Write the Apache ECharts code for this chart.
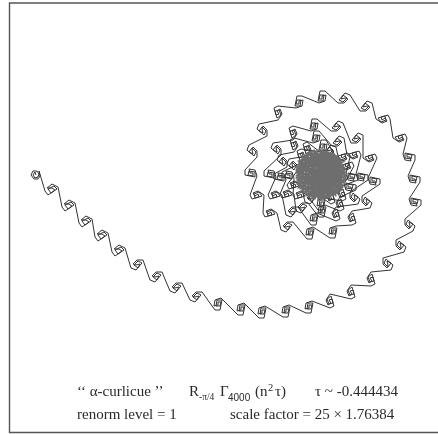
<!DOCTYPE html>
<html><head><meta charset="utf-8">
<style>html,body{margin:0;padding:0;background:#fff}#c{width:438px;height:434px}</style>
<script src="https://cdn.jsdelivr.net/npm/echarts@6/dist/echarts.min.js"></script>
</head><body><div id="c"></div>
<script>
// Curve vertices, as flat x,y lists, in drawing order.
const head = [36,175,37,173,35,172,33,175,35,178,38,177,39,174,37,171,33,171,31,175,34,179,38,179,40,176,39,171];
const tail = [45,191,48,195,57,189,54,186,48,189,51,193,55,190,52,188,50,190,47,188,52,184,58,187,
62,207,65,211,74,205,71,202,65,205,68,209,72,206,69,204,67,206,64,204,69,200,75,203,
79,223,82,227,91,221,88,218,82,221,85,225,89,222,86,220,84,222,81,220,86,216,92,219,
95,237,98,241,107,235,104,232,98,235,101,239,105,236,102,234,100,236,97,234,102,230,108,233,
112,252,115,256,124,250,121,247,115,250,118,254,122,251,119,249,117,251,114,249,119,245,125,248,
131,268,136,270,142,263,138,261,134,265,138,268,140,264,138,263,136,265,133,264,137,260,143,260,
150,280,155,282,161,275,157,273,153,277,157,280,159,276,157,275,155,277,152,276,156,272,162,272,
170,291,175,293,181,286,177,284,173,288,177,291,179,287,177,286,175,288,172,287,176,283,182,283,
190,300,195,302,201,295,197,293,193,297,197,300,199,296,197,295,195,297,192,296,196,292,202,292,
215,310,220,310,222,300,217,300,216,306,220,306,221,302,218,302,218,305,214,306,215,300,221,298,
238,315,243,315,245,305,240,305,239,311,243,311,244,307,241,307,241,310,237,311,238,305,244,303,
259,318,264,318,266,308,261,308,260,314,264,314,265,310,262,310,262,313,258,314,259,308,265,306];
const outerRing = [283,317,288,317,290,307,285,307,284,313,288,313,289,309,286,309,286,312,282,313,283,307,289,305,
306,313,311,313,313,303,308,303,307,309,311,309,312,305,309,305,309,308,305,309,306,303,312,301,
330,308,334,306,331,296,327,299,329,304,333,303,332,299,329,300,331,303,328,305,326,300,330,294,
351,299,355,297,352,287,348,290,350,295,354,294,353,290,350,291,352,294,349,296,347,291,351,285,
371,286,375,284,372,274,368,277,370,282,374,281,373,277,370,278,372,281,369,283,367,278,371,272,
391,270,393,265,386,259,384,263,388,267,391,263,387,261,386,263,388,265,387,268,383,264,383,258,
404,252,406,247,399,241,397,245,401,249,404,245,400,243,399,245,401,247,400,250,396,246,396,240,
413,231,415,226,408,220,406,224,410,228,413,224,409,222,408,224,410,226,409,229,405,225,405,219,
421,205,421,200,411,198,411,203,417,204,418,200,413,199,413,202,416,202,417,206,411,205,409,199,
420,182,420,177,410,175,410,180,416,181,417,177,412,176,412,179,415,179,416,183,410,182,408,176,
415,160,415,155,405,153,405,158,411,159,412,155,407,154,407,157,410,157,411,161,405,160,403,154,
407,138,405,134,395,137,398,141,403,139,402,135,398,136,399,139,402,137,404,140,399,142,393,138,
390,119,388,115,378,118,381,122,386,120,385,116,381,117,382,120,385,118,387,121,382,123,376,119,
372,103,367,101,361,108,365,110,369,106,365,103,363,107,365,108,367,106,370,107,366,111,360,111,
350,95,345,93,339,100,343,102,347,98,343,95,341,99,343,100,345,98,348,99,344,103,338,103,
325,91,320,91,318,101,323,101,324,95,320,95,319,99,322,99,322,96,326,95,325,101,319,103,
302,96,297,96,295,106,300,106,301,100,297,100,296,104,299,104,299,101,303,100,302,106,296,108,
278,106,274,108,277,118,281,115,279,110,275,111,276,115,279,114,277,111,280,109,282,114,278,120,
259,124,257,129,264,135,266,131,262,127,259,131,263,133,264,131,262,129,263,126,267,130,267,136,
249,145,247,150,254,156,256,152,252,148,249,152,253,154,254,152,252,150,253,147,257,151,257,157,
245,170,245,175,255,177,255,172,249,171,248,175,253,176,253,173,250,173,249,169,255,170,257,176,
250,195,252,199,262,196,259,192,254,194,255,198,259,197,258,194,255,196,253,193,258,191,264,195,
263,213,265,217,275,214,272,210,267,212,268,216,272,215,271,212,268,214,266,211,271,209,277,213,
281,230,286,232,292,225,288,223,284,227,288,230,290,226,288,225,286,227,283,226,287,222,293,222,
307,239,312,239,314,229,309,229,308,235,312,235,313,231,310,231,310,234,306,235,307,229,313,227,
330,238,335,238,337,228,332,228,331,234,335,234,336,230,333,230,333,233,329,234,330,228,336,226,
352,225,356,223,353,213,349,216,351,221,355,220,354,216,351,217,353,220,350,222,348,217,352,211];
const secondRing = [370,208,372,203,365,197,363,201,367,205,370,201,366,199,365,201,367,203,366,206,362,202,362,196,
380,184,380,179,370,177,370,182,376,183,377,179,372,178,372,181,375,181,376,185,370,184,368,178,
377,158,375,154,365,157,368,161,373,159,372,155,368,156,369,159,372,157,374,160,369,162,363,158,
363,135,358,133,352,140,356,142,360,138,356,135,354,139,356,140,358,138,361,139,357,143,351,143,
343,123,338,121,332,128,336,130,340,126,336,123,334,127,336,128,338,126,341,127,337,131,331,131,
317,119,312,119,310,129,315,129,316,123,312,123,311,127,314,127,314,124,318,123,317,129,311,131,
293,126,289,128,292,138,296,135,294,130,290,131,291,135,294,134,292,131,295,129,297,134,293,140,
273,143,271,148,278,154,280,150,276,146,273,150,277,152,278,150,276,148,277,145,281,149,281,155,
264,171,264,176,274,178,274,173,268,172,267,176,272,177,272,174,269,174,268,170,274,171,276,177,
268,195,270,199,280,196,277,192,272,194,273,198,277,197,276,194,273,196,271,193,276,191,282,195,
286,215,291,217,297,210,293,208,289,212,293,215,295,211,293,210,291,212,288,211,292,207,298,207,
311,225,316,225,318,215,313,215,312,221,316,221,317,217,314,217,314,220,310,221,311,215,317,213,
336,221,340,219,337,209,333,212,335,217,339,216,338,212,335,213,337,216,334,218,332,213,336,207,
358,204,360,199,353,193,351,197,355,201,358,197,354,195,353,197,355,199,354,202,350,198,350,192];
const thirdRing = [368,180,368,175,358,173,358,178,364,179,365,175,360,174,360,177,363,177,364,181,358,180,356,174,
361,155,359,151,349,154,352,158,357,156,356,152,352,153,353,156,356,154,358,157,353,159,347,155,
344,138,339,136,333,143,337,145,341,141,337,138,335,142,337,143,339,141,342,142,338,146,332,146,
319,131,314,131,312,141,317,141,318,135,314,135,313,139,316,139,316,136,320,135,319,141,313,143,
294,138,290,140,293,150,297,147,295,142,291,143,292,147,295,146,293,143,296,141,298,146,294,152,
279,155,277,160,284,166,286,162,282,158,279,162,283,164,284,162,282,160,283,157,287,161,287,167,
274,174,274,179,284,181,284,176,278,175,277,179,282,180,282,177,279,177,278,173,284,174,286,180,
280,194,282,198,292,195,289,191,284,193,285,197,289,196,288,193,285,195,283,192,288,190,294,194,
296,211,301,213,307,206,303,204,299,208,303,211,305,207,303,206,301,208,298,207,302,203,308,203,
319,217,324,217,326,207,321,207,320,213,324,213,325,209,322,209,322,212,318,213,319,207,325,205,
340,211,344,209,341,199,337,202,339,207,343,206,342,202,339,203,341,206,338,208,336,203,340,197];
const fourthRing = [356,190,356,185,346,183,346,188,352,189,353,185,348,184,348,187,351,187,352,191,346,190,344,184,
354,166,352,162,342,165,345,169,350,167,349,163,345,164,346,167,349,165,351,168,346,170,340,166,
336,147,331,145,325,152,329,154,333,150,329,147,327,151,329,152,331,150,334,151,330,155,324,155,
307,142,303,144,306,154,310,151,308,146,304,147,305,151,308,150,306,147,309,145,311,150,307,156,
289,159,287,164,294,170,296,166,292,162,289,166,293,168,294,166,292,164,293,161,297,165,297,171,
287,185,289,189,299,186,296,182,291,184,292,188,296,187,295,184,292,186,290,183,295,181,301,185,
305,202,310,204,316,197,312,195,308,199,312,202,314,198,312,197,310,199,307,198,311,194,317,194,
331,204,335,202,332,192,328,195,330,200,334,199,333,195,330,196,332,199,329,201,327,196,331,190];
const fifthRing = [358,180,358,175,348,173,348,178,354,179,355,175,350,174,350,177,353,177,354,181,348,180,346,174,
350,157,348,153,338,156,341,160,346,158,345,154,341,155,342,158,345,156,347,159,342,161,336,157,
326,140,321,140,319,150,324,150,325,144,321,144,320,148,323,148,323,145,327,144,326,150,320,152,
301,149,297,151,300,161,304,158,302,153,298,154,299,158,302,157,300,154,303,152,305,157,301,163,
282,172,282,177,292,179,292,174,286,173,285,177,290,178,290,175,287,175,286,171,292,172,294,178,
293,195,295,199,305,196,302,192,297,194,298,198,302,197,301,194,298,196,296,193,301,191,307,195,
318,210,323,210,325,200,320,200,319,206,323,206,324,202,321,202,321,205,317,206,318,200,324,198,
342,201,346,199,343,189,339,192,341,197,345,196,344,192,341,193,343,196,340,198,338,193,342,187];
const core = [309,153,333,157,306,155,338,160,304,158,340,162,302,160,342,165,300,163,344,167,298,165,345,170,297,168,346,172,296,170,346,175,296,173,346,177,296,176,345,180,296,178,344,182,297,181,343,185,298,183,342,187,299,186,340,190,301,188,338,192,303,191,335,194,306,193,331,196,310,196,326,198,
341,161,342,189,338,158,339,192,335,155,336,194,332,153,333,196,329,152,330,197,326,151,327,198,323,150,324,199,320,150,321,200,317,150,318,200,314,151,315,199,311,152,312,198,308,153,309,197,305,155,306,195,302,158,303,193,299,162,300,189,297,167,298,185,
299,163,338,194,303,157,343,186,307,153,346,180,313,151,345,168,320,150,340,160,335,155,298,188,341,162,303,193,345,170,310,197,346,178,318,199,342,188,329,197,
300,160,336,196,304,155,342,190,309,152,345,184,314,150,346,177,320,150,345,170,326,151,342,163,332,153,
340,159,300,192,344,165,306,196,346,172,312,199,346,180,320,200,343,187,328,198,
336,156,297,184,331,153,296,176,326,151,297,168,319,150,301,160,313,151,306,156,297,180,340,158,296,171,333,155,
345,174,298,161,344,183,302,156,339,191,311,151,330,195,322,151,318,197,336,157,305,192,343,172,299,179,345,161,301,185,338,155,309,195,328,153,322,198,316,152,334,192,297,172,341,186,299,166,344,177,305,159,337,164,303,186,321,175];

const toPairs = (flat) => { const out = []; for (let i = 0; i < flat.length; i += 2) out.push([flat[i], flat[i + 1]]); return out; };
const curve = toPairs([].concat(head, tail, outerRing, secondRing, thirdRing, fourthRing, fifthRing, core.slice(0, 2)));
const coreCurve = toPairs(core);

const serif = '"Liberation Serif","DejaVu Serif",serif';
const txt = (x, base, text, size, family) => ({type:'text', x, y: base - size * 0.82, style:{text, fontSize:size, fontFamily:family||serif, fill:'#2a2a2a'}});

const chart = echarts.init(document.getElementById('c'), null, {renderer:'canvas'});
chart.setOption({
  animation:false,
  backgroundColor:'#fff',
  grid:{left:0,right:0,top:0,bottom:0},
  xAxis:{type:'value',min:0,max:438,show:false},
  yAxis:{type:'value',min:0,max:434,inverse:true,show:false},
  series:[
    {type:'line',data:curve,symbol:'none',smooth:false,lineStyle:{color:'#333',width:1,join:'round'}},
    {type:'line',data:coreCurve,symbol:'none',smooth:false,lineStyle:{color:'#6e6e6e',width:1.3,join:'round'}}
  ],
  graphic:[
    {type:'polyline',shape:{points:[[438,3],[9.5,3],[9.5,432.5],[438,432.5]]},style:{fill:'none',stroke:'#555',lineWidth:1.4}},
    txt(77,397,'\u2018\u2018 \u03b1-curlicue \u2019\u2019',15),
    txt(189,397,'R',15),
    txt(199,400,'-\u03c0/4',9.5),
    txt(220,397,'\u0393',15),
    txt(228,401,'4000',10,'"Liberation Sans",sans-serif'),
    txt(255,397,'(n',15),
    txt(268,391,'2',10.5),
    txt(275,397,'\u03c4)',15),
    txt(315,397,'\u03c4 ~ -0.444434',15),
    txt(77,420,'renorm level = 1',15),
    txt(230,420,'scale factor = 25 \u00d7 1.76384',15)
  ]
});
</script></body></html>
